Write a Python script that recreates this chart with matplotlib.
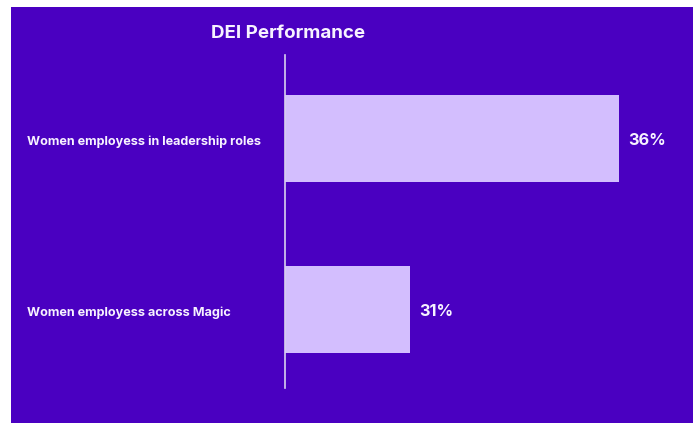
import matplotlib
matplotlib.use("Agg")
import matplotlib.pyplot as plt
import matplotlib.transforms as mtransforms

categories = ["Women employess in leadership roles", "Women employess across Magic"]
values = [36, 31]
value_labels = ["36%", "31%"]
title = "DEI Performance"

W, H = 698, 423
BG = "#4A00C1"
BAR = "#D3BEFE"
TXT = "#F7F2FF"
FONT = ["Inter", "DejaVu Sans"]

fig = plt.figure(figsize=(W / 100, H / 100), dpi=100)
fig.patch.set_facecolor("white")

bg = fig.add_axes([11 / W, 0, (693 - 11) / W, (H - 7) / H], zorder=-1)
bg.set_facecolor(BG)
bg.set_xticks([]); bg.set_yticks([])
for s in bg.spines.values():
    s.set_visible(False)

x0, x1 = 285, 693
y_top, y_bot = 55, 388
ax = fig.add_axes([x0 / W, 1 - y_bot / H, (x1 - x0) / W, (y_bot - y_top) / H], zorder=1)
ax.set_facecolor("none")

ypos = list(range(len(categories)))
ax.barh(ypos, values, height=0.51, color=BAR, zorder=2)
ax.set_xlim(28, 28 + (x1 - x0) / 41.75)
ax.set_ylim(1.46, -0.49)

for s in ["top", "right", "bottom"]:
    ax.spines[s].set_visible(False)
ax.spines["left"].set_color("#D8D0EE")
ax.spines["left"].set_linewidth(1.2)
ax.spines["left"].set_zorder(3)
ax.set_xticks([])
ax.set_yticks([])

trans = mtransforms.blended_transform_factory(fig.transFigure, ax.transData)
for y, c in zip(ypos, categories):
    ax.annotate(c, (27 / W, y), xycoords=trans, xytext=(0, -2.3),
                textcoords="offset points", fontsize=9.1, fontweight="bold",
                color=TXT, family=FONT, va="center", ha="left",
                annotation_clip=False)

for y, v, l in zip(ypos, values, value_labels):
    ax.annotate(l, (v, y), xytext=(6.5, -1.3), textcoords="offset points",
                va="center", ha="left", fontsize=11.8, fontweight="bold",
                color=TXT, family=FONT, annotation_clip=False)

fig.text(288 / W, 1 - 34 / H, title, ha="center", va="center", fontsize=13.5,
         fontweight="bold", color=TXT, family=FONT)

fig.savefig("out.png", dpi=100, facecolor=fig.get_facecolor())
